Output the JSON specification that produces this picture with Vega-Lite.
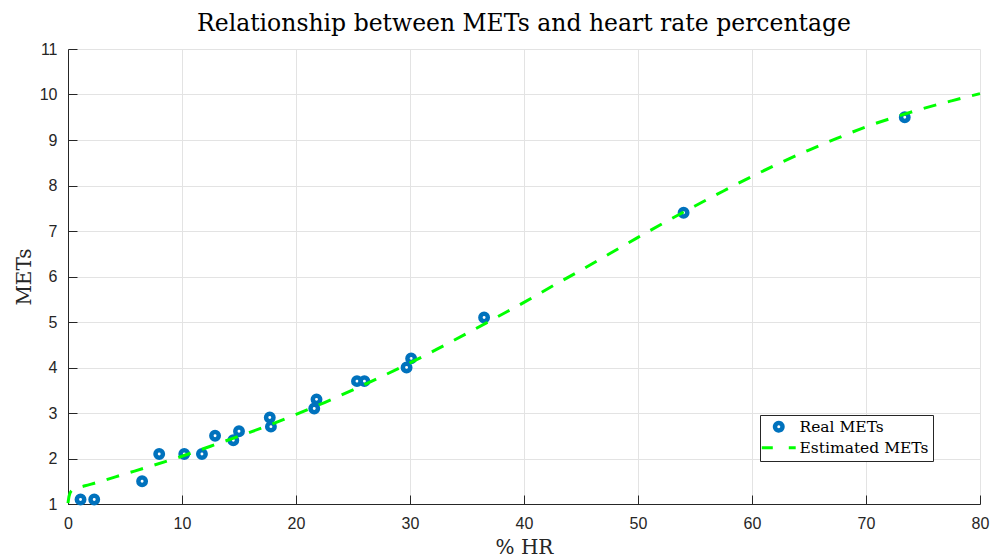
{
  "$schema": "https://vega.github.io/schema/vega-lite/v6.json",
  "width": 912,
  "height": 455,
  "autosize": {"type": "none"},
  "padding": {"left": 68, "top": 49, "right": 19, "bottom": 55},
  "background": "white",
  "title": {
    "text": "Relationship between METs and heart rate percentage",
    "font": "DejaVu Serif",
    "fontSize": 23.5,
    "fontWeight": "normal",
    "color": "#000000",
    "anchor": "middle",
    "offset": 6
  },
  "config": {
    "view": {"stroke": null},
    "axis": {
      "labelFont": "Liberation Sans",
      "labelFontSize": 16,
      "labelColor": "#262626",
      "labelFlush": false,
      "titleFont": "DejaVu Serif",
      "titleFontSize": 20,
      "titleFontWeight": "normal",
      "titleColor": "#262626",
      "gridColor": "#e3e3e3",
      "gridWidth": 1,
      "domainColor": "#262626",
      "tickColor": "#262626",
      "tickSize": -9,
      "domainWidth": 1
    }
  },
  "data": {
    "values": [
      {"x": 1.1, "y": 1.1, "series": "Real METs"},
      {"x": 2.3, "y": 1.1, "series": "Real METs"},
      {"x": 6.5, "y": 1.5, "series": "Real METs"},
      {"x": 8.0, "y": 2.1, "series": "Real METs"},
      {"x": 10.2, "y": 2.1, "series": "Real METs"},
      {"x": 11.75, "y": 2.1, "series": "Real METs"},
      {"x": 12.9, "y": 2.5, "series": "Real METs"},
      {"x": 14.5, "y": 2.4, "series": "Real METs"},
      {"x": 15.0, "y": 2.6, "series": "Real METs"},
      {"x": 17.7, "y": 2.9, "series": "Real METs"},
      {"x": 17.8, "y": 2.7, "series": "Real METs"},
      {"x": 21.6, "y": 3.1, "series": "Real METs"},
      {"x": 21.8, "y": 3.3, "series": "Real METs"},
      {"x": 25.35, "y": 3.7, "series": "Real METs"},
      {"x": 26.0, "y": 3.7, "series": "Real METs"},
      {"x": 29.7, "y": 4.0, "series": "Real METs"},
      {"x": 30.1, "y": 4.2, "series": "Real METs"},
      {"x": 36.5, "y": 5.1, "series": "Real METs"},
      {"x": 54.0, "y": 7.4, "series": "Real METs"},
      {"x": 73.4, "y": 9.5, "series": "Real METs"},
      {"x": 0, "y": 1.02, "series": "Estimated METs"},
      {"x": 0.1, "y": 1.18, "series": "Estimated METs"},
      {"x": 0.3, "y": 1.29, "series": "Estimated METs"},
      {"x": 0.7, "y": 1.34, "series": "Estimated METs"},
      {"x": 1.5, "y": 1.4, "series": "Estimated METs"},
      {"x": 2.5, "y": 1.47, "series": "Estimated METs"},
      {"x": 5, "y": 1.66, "series": "Estimated METs"},
      {"x": 7.5, "y": 1.85, "series": "Estimated METs"},
      {"x": 10, "y": 2.05, "series": "Estimated METs"},
      {"x": 12.5, "y": 2.27, "series": "Estimated METs"},
      {"x": 15, "y": 2.49, "series": "Estimated METs"},
      {"x": 17.5, "y": 2.72, "series": "Estimated METs"},
      {"x": 20, "y": 2.97, "series": "Estimated METs"},
      {"x": 22.5, "y": 3.23, "series": "Estimated METs"},
      {"x": 25, "y": 3.51, "series": "Estimated METs"},
      {"x": 27.5, "y": 3.8, "series": "Estimated METs"},
      {"x": 30, "y": 4.1, "series": "Estimated METs"},
      {"x": 32.5, "y": 4.42, "series": "Estimated METs"},
      {"x": 35, "y": 4.75, "series": "Estimated METs"},
      {"x": 37.5, "y": 5.09, "series": "Estimated METs"},
      {"x": 40, "y": 5.43, "series": "Estimated METs"},
      {"x": 42.5, "y": 5.79, "series": "Estimated METs"},
      {"x": 45, "y": 6.14, "series": "Estimated METs"},
      {"x": 47.5, "y": 6.5, "series": "Estimated METs"},
      {"x": 50, "y": 6.86, "series": "Estimated METs"},
      {"x": 52.5, "y": 7.21, "series": "Estimated METs"},
      {"x": 55, "y": 7.55, "series": "Estimated METs"},
      {"x": 57.5, "y": 7.88, "series": "Estimated METs"},
      {"x": 60, "y": 8.2, "series": "Estimated METs"},
      {"x": 62.5, "y": 8.5, "series": "Estimated METs"},
      {"x": 65, "y": 8.78, "series": "Estimated METs"},
      {"x": 67.5, "y": 9.04, "series": "Estimated METs"},
      {"x": 70, "y": 9.29, "series": "Estimated METs"},
      {"x": 72.5, "y": 9.5, "series": "Estimated METs"},
      {"x": 75, "y": 9.69, "series": "Estimated METs"},
      {"x": 77.5, "y": 9.86, "series": "Estimated METs"},
      {"x": 80, "y": 10.02, "series": "Estimated METs"}
    ]
  },
  "encoding": {
    "x": {
      "field": "x",
      "type": "quantitative",
      "scale": {"domain": [0, 80], "nice": false, "zero": false},
      "axis": {"values": [0, 10, 20, 30, 40, 50, 60, 70, 80], "title": "% HR", "labelPadding": 20, "titlePadding": 6}
    },
    "y": {
      "field": "y",
      "type": "quantitative",
      "scale": {"domain": [1, 11], "nice": false, "zero": false},
      "axis": {"values": [1, 2, 3, 4, 5, 6, 7, 8, 9, 10, 11], "title": "METs", "labelPadding": 20, "titlePadding": 5}
    },
    "color": {
      "field": "series",
      "type": "nominal",
      "scale": {"domain": ["Real METs", "Estimated METs"], "range": ["#0072BD", "#00FF00"]},
      "legend": {
        "title": null,
        "orient": "none",
        "legendX": 692,
        "legendY": 366,
        "direction": "vertical",
        "padding": 4,
        "strokeColor": "#262626",
        "fillColor": "white",
        "labelFont": "DejaVu Serif",
        "labelFontSize": 15.5,
        "labelColor": "#000000",
        "labelOffset": 13,
        "symbolOffset": 7,
        "rowPadding": 0,
        "symbolSize": 1150,
        "symbolType": "stroke",
        "encode": {
          "symbols": {
            "update": {
              "shape": {"signal": "datum.value === 'Real METs' ? 'circle' : 'stroke'"},
              "size": {"signal": "datum.value === 'Real METs' ? 55 : 1150"},
              "strokeWidth": {"signal": "datum.value === 'Real METs' ? 4.5 : 3"},
              "strokeDash": {"signal": "datum.value === 'Real METs' ? [1, 0] : [11, 16]"},
              "fill": {"value": "transparent"},
              "opacity": {"value": 1}
            }
          }
        }
      }
    }
  },
  "layer": [
    {
      "transform": [{"filter": "datum.series === 'Real METs'"}],
      "mark": {"type": "point", "shape": "circle", "filled": false, "size": 55, "strokeWidth": 4.5, "opacity": 1}
    },
    {
      "transform": [{"filter": "datum.series === 'Estimated METs'"}],
      "mark": {"type": "line", "strokeWidth": 3, "strokeDash": [13, 12], "interpolate": "monotone"}
    }
  ]
}
